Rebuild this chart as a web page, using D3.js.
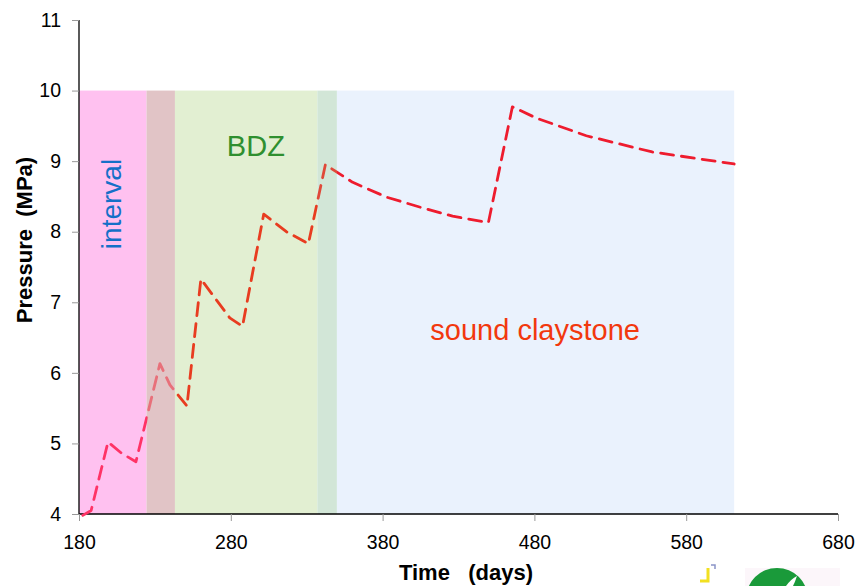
<!DOCTYPE html>
<html lang="en">
<head>
<meta charset="UTF-8">
<title>Pressure vs time</title>
<script src="https://d3js.org/d3.v7.min.js"></script>
<style>
  body { margin: 0; background: #fff; }
  svg { display: block; font-family: "Liberation Sans", Arial, sans-serif; }
</style>
</head>
<body>
<script>
// data
const days = [182.5, 188, 199.1, 208.1, 217.5, 233.3, 239.9, 251.1, 260.3, 270.6, 279.3, 287.7,
              301.7, 316.6, 331.1, 342.3, 360.3, 382.6, 404.3, 426.1, 449.7, 465.5, 481.3, 514.2, 557.6, 611.6];
const pressure = [3.98, 4.05, 5.02, 4.86, 4.74, 6.13, 5.83, 5.53, 7.33, 7.03, 6.78, 6.66,
                  8.25, 8.0, 7.83, 8.95, 8.70, 8.49, 8.35, 8.22, 8.13, 9.77, 9.61, 9.36, 9.13, 8.96];

// zones (start day, end day)
const zoneStart = [180, 224.5, 243.2, 337.0, 349.9];
const zoneEnd   = [224.5, 243.2, 337.0, 349.9, 611.6];
const zoneFill  = ["#ffc1f0", "#e1c4c6", "#e2efd2", "#d2e6d7", "#eaf2fd"];
const lineColor = ["#ff3366", "#e8707a", "#e83c20", "#e04838", "#ee1c2e"];
const zoneTop = 10;

const xTicks = [180, 280, 380, 480, 580, 680];
const yTicks = [4, 5, 6, 7, 8, 9, 10, 11];

const width = 868, height = 586;
const margin = { top: 20, right: 30, bottom: 72, left: 79 };

const svg = d3.select("body").append("svg")
  .attr("width", width)
  .attr("height", height);

const x = d3.scaleLinear().domain([180, 680]).range([margin.left, width - margin.right]);
const y = d3.scaleLinear().domain([4, 11]).range([height - margin.bottom, margin.top]);

// background zones
svg.append("g").selectAll("rect")
  .data(zoneStart)
  .join("rect")
  .attr("x", (d, i) => x(d))
  .attr("width", (d, i) => x(zoneEnd[i]) - x(d))
  .attr("y", y(zoneTop))
  .attr("height", y(4) - y(zoneTop))
  .attr("fill", (d, i) => zoneFill[i]);

// gradient with hard stops so the line takes a different tint per zone
const grad = svg.append("defs").append("linearGradient")
  .attr("id", "lineGrad")
  .attr("gradientUnits", "userSpaceOnUse")
  .attr("x1", x(180)).attr("x2", x(680))
  .attr("y1", 0).attr("y2", 0);
const span = x(680) - x(180);
zoneStart.forEach((s, i) => {
  grad.append("stop").attr("offset", (x(s) - x(180)) / span).attr("stop-color", lineColor[i]);
  grad.append("stop").attr("offset", (x(zoneEnd[i]) - x(180)) / span).attr("stop-color", lineColor[i]);
});

// axes
const yAxis = d3.axisLeft(y).tickValues(yTicks).tickFormat(d3.format("d")).tickSize(7).tickPadding(11);
const xAxis = d3.axisBottom(x).tickValues(xTicks).tickFormat(d3.format("d")).tickSize(7).tickPadding(14);

const gy = svg.append("g")
  .attr("transform", `translate(${margin.left},0)`)
  .call(yAxis);
const gx = svg.append("g")
  .attr("transform", `translate(0,${y(4)})`)
  .call(xAxis);

[gx, gy].forEach(g => {
  g.attr("font-size", null).attr("font-family", null);
  g.select(".domain").attr("stroke", "#000").attr("stroke-width", 1.3)
    .attr("d", g === gx ? `M${x(180)},0H${x(680)}` : `M0,${y(11)}V${y(4)}`);
  g.selectAll(".tick line").attr("stroke", "#999");
  g.selectAll(".tick text")
    .attr("fill", "#000")
    .style("font-size", "19.5px")
    .style("font-family", "'Liberation Sans', Arial, sans-serif");
});

// pressure line
const line = d3.line()
  .x((d, i) => x(days[i]))
  .y(d => y(d));

svg.append("path")
  .datum(pressure)
  .attr("d", line)
  .attr("fill", "none")
  .attr("stroke", "url(#lineGrad)")
  .attr("stroke-width", 2.8)
  .attr("stroke-dasharray", "13,8")
  .attr("stroke-linecap", "round")
  .attr("stroke-linejoin", "round");

// zone labels
svg.append("text")
  .attr("transform", "translate(121,204) rotate(-90)")
  .attr("text-anchor", "middle")
  .attr("font-size", 28)
  .attr("fill", "#1570c8")
  .text("interval");

svg.append("text")
  .attr("x", x(296.5))
  .attr("y", 156)
  .attr("text-anchor", "middle")
  .attr("font-size", 29)
  .attr("fill", "#2f8f2f")
  .text("BDZ");

svg.append("text")
  .attr("x", x(480.5))
  .attr("y", 340)
  .attr("text-anchor", "middle")
  .attr("font-size", 29)
  .attr("fill", "#f2380e")
  .text("sound claystone");

// axis titles
svg.append("text")
  .attr("transform", "translate(32,240) rotate(-90)")
  .attr("text-anchor", "middle")
  .attr("font-size", 22)
  .attr("font-weight", "bold")
  .style("white-space", "pre")
  .text("Pressure  (MPa)");

svg.append("text")
  .attr("x", 466)
  .attr("y", 580)
  .attr("text-anchor", "middle")
  .attr("font-size", 22)
  .attr("font-weight", "bold")
  .style("white-space", "pre")
  .text("Time   (days)");

// partial logo cut off at the bottom edge
const logo = svg.append("g");
logo.append("rect").attr("x", 745).attr("y", 568).attr("width", 95).attr("height", 18).attr("fill", "#fcf6fa");
logo.append("circle").attr("cx", 777).attr("cy", 599).attr("r", 31).attr("fill", "#1a9a3a");
logo.append("path").attr("d", "M786,586 Q791,579 797,576 Q795,582 793,586 Z").attr("fill", "#fff");
logo.append("path").attr("d", "M708,568 L708,581 L700,581").attr("fill", "none").attr("stroke", "#f2e020").attr("stroke-width", 3);
logo.append("path").attr("d", "M711,565 L715,565 L715,569").attr("fill", "none").attr("stroke", "#8a94c8").attr("stroke-width", 1.5);
</script>
</body>
</html>
